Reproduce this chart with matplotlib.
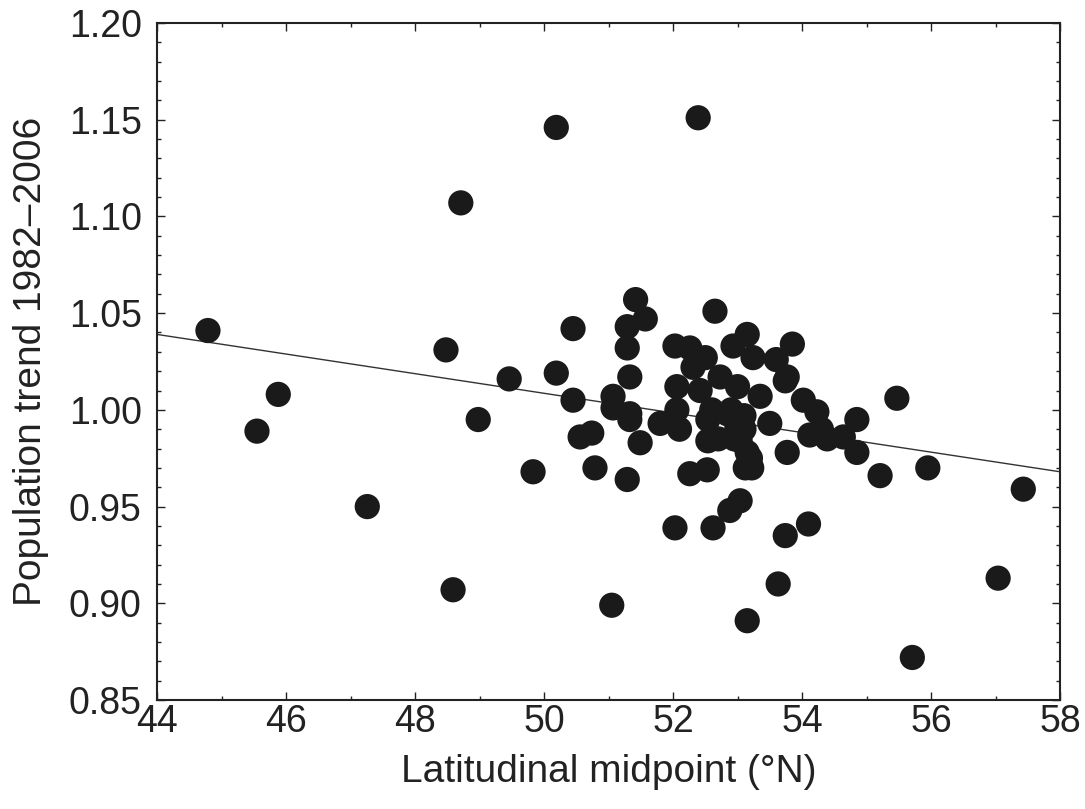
import matplotlib
matplotlib.use('Agg')
import matplotlib.pyplot as plt
from matplotlib.ticker import MultipleLocator, FormatStrFormatter
import numpy as np

# latitude midpoint (deg N) and population trend
lat = [44.79, 45.55, 45.88, 47.26, 48.48, 48.59, 48.71, 48.98, 49.46, 49.83,
       50.19, 50.19, 50.45, 50.45, 50.56, 50.74, 50.79, 51.05, 51.07, 51.07,
       51.29, 51.29, 51.29, 51.33, 51.33, 51.42, 51.57, 51.49, 51.80, 52.03,
       52.26, 52.50, 52.31, 52.06, 52.42, 52.65, 52.73, 52.93, 53.15, 53.24,
       53.00, 53.35, 53.60, 53.77, 53.85, 54.02, 54.23, 54.12, 54.39, 54.64,
       54.85, 54.85, 53.74, 51.33, 52.06, 52.10, 52.54, 52.54, 52.84, 52.99,
       53.04, 53.15, 53.22, 53.50, 53.77, 52.26, 52.53, 53.04, 52.88, 52.39,
       52.03, 52.62, 53.74, 54.10, 53.63, 53.15, 55.21, 55.47, 55.95, 57.43,
       57.04, 55.71, 52.90, 53.10, 52.95, 53.10, 52.70, 52.60, 53.12, 53.20,
       54.30]
trend = [1.041, 0.989, 1.008, 0.950, 1.031, 0.907, 1.107, 0.995, 1.016, 0.968,
         1.146, 1.019, 1.042, 1.005, 0.986, 0.988, 0.970, 0.899, 1.007, 1.001,
         0.964, 1.043, 1.032, 1.017, 0.995, 1.057, 1.047, 0.983, 0.993, 1.033,
         1.032, 1.027, 1.022, 1.012, 1.010, 1.051, 1.017, 1.033, 1.039, 1.027,
         1.012, 1.007, 1.026, 1.017, 1.034, 1.005, 0.999, 0.987, 0.985, 0.986,
         0.995, 0.978, 1.015, 0.998, 1.000, 0.990, 0.995, 0.984, 0.998, 0.991,
         0.984, 0.978, 0.970, 0.993, 0.978, 0.967, 0.969, 0.953, 0.948, 1.151,
         0.939, 0.939, 0.935, 0.941, 0.910, 0.891, 0.966, 1.006, 0.970, 0.959,
         0.913, 0.872, 1.000, 0.997, 0.985, 0.990, 0.985, 1.000, 0.970, 0.975,
         0.990]

# fitted trend line as drawn: values at the two axis ends
fit_x = [44, 58]
fit_y = [1.039, 0.968]

plt.rcParams['font.family'] = ['Liberation Sans', 'DejaVu Sans']

fig = plt.figure(figsize=(10.85, 8.09), dpi=100)
ax = fig.add_axes([0.1447, 0.1347, 0.8323, 0.8369])

ax.plot(fit_x, fit_y, color='#333333', lw=1.0, zorder=2)
ax.scatter(lat, trend, s=330, color='#1a1a1a', edgecolors='none', zorder=3)

ax.set_xlim(44, 58)
ax.set_ylim(0.85, 1.20)
ax.xaxis.set_major_locator(MultipleLocator(2))
ax.xaxis.set_minor_locator(MultipleLocator(1))
ax.yaxis.set_major_locator(MultipleLocator(0.05))
ax.yaxis.set_minor_locator(MultipleLocator(0.01))
ax.yaxis.set_major_formatter(FormatStrFormatter('%.2f'))

ax.tick_params(which='both', direction='in', top=True, right=True,
               labelsize=27, colors='#222222', width=1.0)
ax.tick_params(which='major', length=6)
ax.tick_params(which='minor', length=3)
ax.tick_params(axis='x', which='major', pad=3)
ax.tick_params(axis='y', which='major', pad=11)
for sp in ax.spines.values():
    sp.set_linewidth(1.5)
    sp.set_color('#222222')

ax.set_xlabel('Latitudinal midpoint (°N)', fontsize=28, color='#222222', labelpad=10)
ax.set_ylabel('Population trend 1982–2006', fontsize=28, color='#222222', labelpad=14)

fig.savefig('out.png', dpi=100, facecolor='white')
